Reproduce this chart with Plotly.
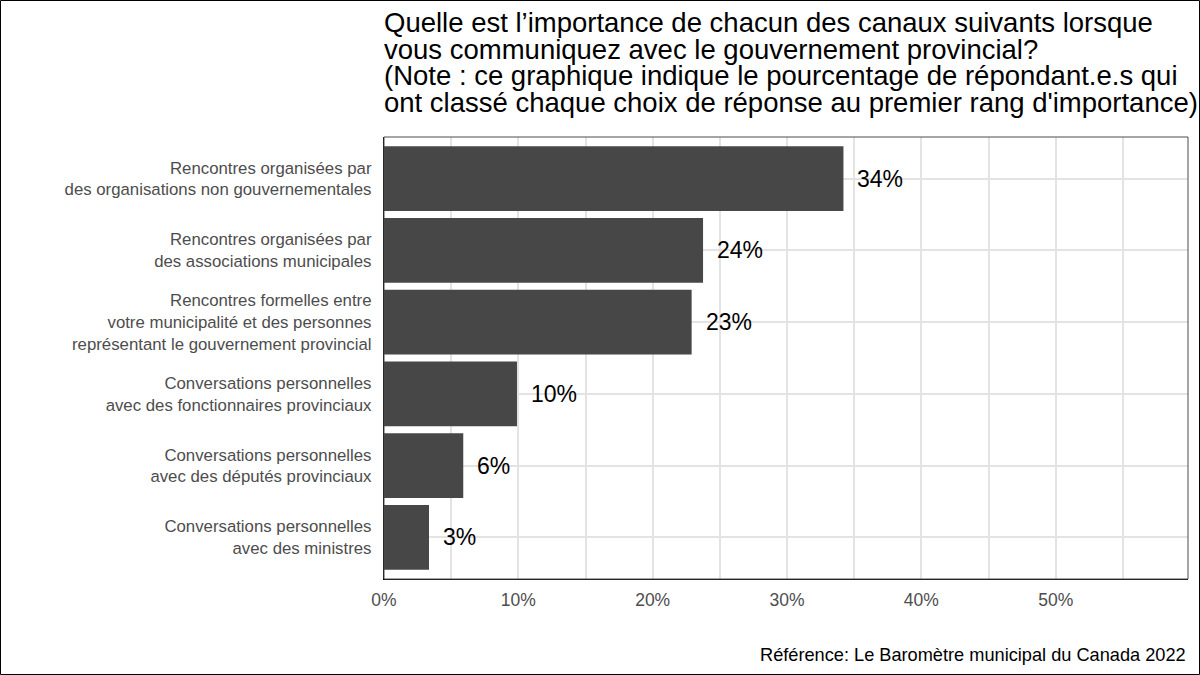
import plotly.graph_objects as go

CATEGORIES = [
    "Rencontres organisées par<br>des organisations non gouvernementales",
    "Rencontres organisées par<br>des associations municipales",
    "Rencontres formelles entre<br>votre municipalité et des personnes<br>représentant le gouvernement provincial",
    "Conversations personnelles<br>avec des fonctionnaires provinciaux",
    "Conversations personnelles<br>avec des députés provinciaux",
    "Conversations personnelles<br>avec des ministres",
]
VALUES = [34.2, 23.75, 22.9, 9.9, 5.9, 3.35]
VALUE_LABELS = ["34%", "24%", "23%", "10%", "6%", "3%"]
X_TICKS = [0, 10, 20, 30, 40, 50]
X_TICK_LABELS = ["0%", "10%", "20%", "30%", "40%", "50%"]
TITLE_LINES = [
    "Quelle est l’importance de chacun des canaux suivants lorsque",
    "vous communiquez avec le gouvernement provincial?",
    "(Note : ce graphique indique le pourcentage de répondant.e.s qui",
    "ont classé chaque choix de réponse au premier rang d'importance)",
]
CAPTION = "Référence: Le Baromètre municipal du Canada 2022"

W, H = 1200, 675
ML, MR, MT, MB = 384, 12, 137, 96
PW, PH = W - ML - MR, H - MT - MB
FONT = "Liberation Sans, Arial, sans-serif"

fig = go.Figure()
fig.add_trace(go.Bar(
    x=VALUES, y=CATEGORIES, orientation="h",
    marker=dict(color="#474747", line=dict(width=0)),
    width=0.9, hoverinfo="skip",
))

# value labels
for cat, v, lab in zip(CATEGORIES, VALUES, VALUE_LABELS):
    fig.add_annotation(x=v, y=cat, text=lab, showarrow=False, xanchor="left",
                       xshift=12, font=dict(size=23, color="black", family=FONT))

# title lines
title_centers = [22.5, 49, 75.5, 102.5]
for line, cy in zip(TITLE_LINES, title_centers):
    fig.add_annotation(xref="paper", yref="paper", x=0, y=(H - MB - cy) / PH,
                       xanchor="left", yanchor="middle", text=line, showarrow=False,
                       xshift=-2,
                       font=dict(size=27.5, color="black", family=FONT))

# caption
fig.add_annotation(xref="paper", yref="paper", x=1, y=(H - MB - 655) / PH,
                   xanchor="right", yanchor="middle", text=CAPTION, showarrow=False,
                   font=dict(size=18.2, color="black", family=FONT))

def px_x(p):
    return (p - ML) / PW
def px_y(p):
    return (H - MB - p) / PH
# outer border
fig.add_shape(type="rect", xref="paper", yref="paper",
              x0=px_x(0.5), x1=px_x(W - 0.5), y0=px_y(H - 0.5), y1=px_y(0.5),
              line=dict(color="black", width=1))
# panel border
fig.add_shape(type="rect", xref="paper", yref="paper", x0=0, x1=1, y0=0, y1=1,
              line=dict(color="#4d4d4d", width=1), layer="above")

fig.update_layout(
    width=W, height=H,
    margin=dict(l=ML, r=MR, t=MT, b=MB),
    paper_bgcolor="white", plot_bgcolor="white",
    showlegend=False,
    font=dict(family=FONT),
    bargap=0.1,
)
fig.update_xaxes(
    range=[0, 59.85], tickvals=X_TICKS, ticktext=X_TICK_LABELS,
    showgrid=True, gridcolor="#e3e3e3", gridwidth=1.5,
    minor=dict(dtick=5, tick0=5, showgrid=True, gridcolor="#e3e3e3", gridwidth=1.5),
    zeroline=False, showline=True, linecolor="black", linewidth=1.3,
    tickfont=dict(size=17.5, color="#4d4d4d", family=FONT),
    ticks="", ticklabelstandoff=5,
)
fig.update_yaxes(
    categoryorder="array", categoryarray=CATEGORIES,
    range=[5.58, -0.58],
    showgrid=True, gridcolor="#e3e3e3", gridwidth=1.5,
    zeroline=False, showline=True, linecolor="black", linewidth=1.3,
    tickfont=dict(size=16.8, color="#4d4d4d", family=FONT),
    ticks="", ticklabelstandoff=8,
)

fig.write_html("out.html")
